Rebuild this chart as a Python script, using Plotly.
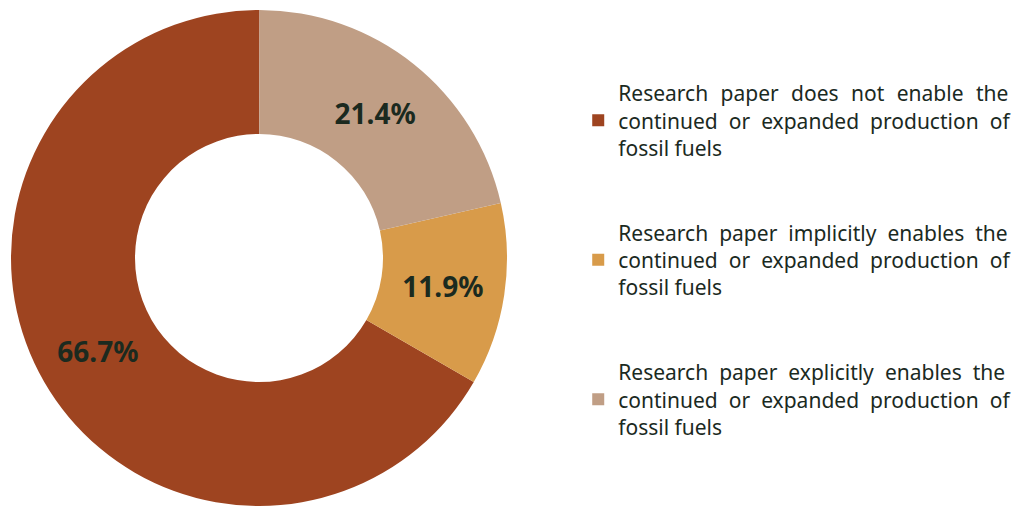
import plotly.graph_objects as go

# Share of research papers by stance on fossil fuel production
label_lines = [
    ["Research paper does not enable the", "continued or expanded production of", "fossil fuels"],
    ["Research paper implicitly enables the", "continued or expanded production of", "fossil fuels"],
    ["Research paper explicitly enables the", "continued or expanded production of", "fossil fuels"],
]
values = [66.7, 11.9, 21.4]
colors = ["#9E4420", "#D89B4A", "#C09E85"]

TEXT_COLOR = "#1B2A1F"
FONT = "Noto Sans"

THIN = "\u2009"
HAIR = "\u200a"
# extra word spacing so the wrapped legend lines read as justified text
line_pads = [
    [THIN + THIN, THIN + HAIR, ""],
    [THIN + HAIR, THIN + HAIR, ""],
    [THIN + HAIR, THIN + HAIR, ""],
]


def legend_entry(lines, pads):
    body = "<br>".join(ln.replace(" ", " " + p) for ln, p in zip(lines, pads))
    # blank first/last line gives the gap between legend items
    return "\u00a0<br>" + body + "<br>\u00a0"


legend_text = [legend_entry(l, p) for l, p in zip(label_lines, line_pads)]

fig = go.Figure(
    go.Pie(
        labels=legend_text,
        values=values,
        hole=0.5,
        sort=False,
        direction="counterclockwise",
        rotation=120,
        marker=dict(colors=colors, line=dict(width=0)),
        texttemplate="%{percent:.1%}",
        textposition="inside",
        insidetextorientation="horizontal",
        textfont=dict(family=FONT, size=28, color=TEXT_COLOR, weight="bold"),
        domain=dict(x=[11 / 1018, 507 / 1018], y=[0, 496 / 506]),
        showlegend=True,
    )
)

fig.update_layout(
    width=1018,
    height=506,
    margin=dict(l=0, r=0, t=0, b=0),
    paper_bgcolor="white",
    plot_bgcolor="white",
    font=dict(family=FONT, color=TEXT_COLOR),
    legend=dict(
        x=0.568,
        y=0.486,
        xanchor="left",
        yanchor="middle",
        font=dict(family=FONT, size=21, color=TEXT_COLOR),
        itemclick=False,
    ),
)

fig.write_html("out.html")
